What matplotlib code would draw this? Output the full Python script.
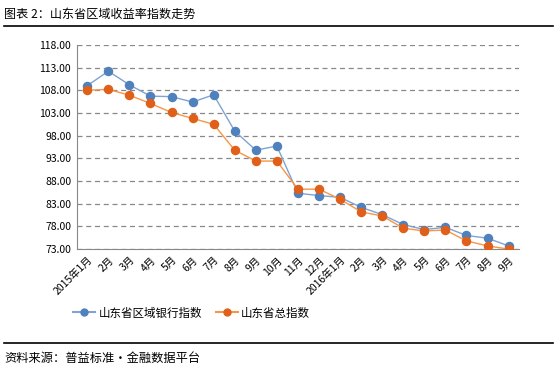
import matplotlib
matplotlib.use("Agg")
import matplotlib.pyplot as plt
from matplotlib.lines import Line2D

plt.rcParams['font.family'] = ['Noto Sans CJK SC', 'DejaVu Sans']

# =================
# DANE
# =================
months = ["2015年1月", "2月", "3月", "4月", "5月", "6月", "7月", "8月", "9月", "10月",
          "11月", "12月", "2016年1月", "2月", "3月", "4月", "5月", "6月", "7月", "8月", "9月"]
bank_index = [109.0, 112.2, 109.2, 106.7, 106.6, 105.4, 107.0, 99.0, 94.8, 95.7,
              85.3, 84.8, 84.4, 82.2, 80.6, 78.4, 77.3, 77.8, 76.0, 75.4, 73.7]
total_index = [108.0, 108.2, 106.9, 105.1, 103.1, 101.8, 100.5, 94.8, 92.4, 92.4,
               86.2, 86.2, 84.0, 81.2, 80.3, 77.6, 77.0, 77.2, 74.8, 73.7, 73.0]
yticks = [73, 78, 83, 88, 93, 98, 103, 108, 113, 118]

# =================
# WYKRES
# =================
fig = plt.figure(figsize=(5.6, 3.74), dpi=100)
ax = fig.add_axes([0.137, 0.334, 0.790, 0.546])

x = list(range(len(months)))
ax.plot(x, bank_index, color="#7FA3D3", lw=1.0, marker="o", ms=5.8,
        mfc="#4F81BD", mec="#4F81BD", zorder=3)
ax.plot(x, total_index, color="#F79646", lw=1.0, marker="o", ms=5.8,
        mfc="#E0601A", mec="#E0601A", zorder=3)

ax.set_xlim(-0.5, len(months) - 0.5)
ax.set_ylim(73, 118)
ax.set_yticks(yticks)
ax.set_yticklabels([f"{v:.2f}" for v in yticks], fontsize=7.5)
ax.set_xticks(x)
ax.set_xticklabels(months, rotation=45, ha="right", va="top",
                   rotation_mode="anchor", fontsize=7.5)
ax.tick_params(length=0, pad=4)
ax.grid(axis="y", ls=(0, (4, 3)), color="#888888", lw=0.9)
for s in ["top", "right"]:
    ax.spines[s].set_visible(False)
for s in ["left", "bottom"]:
    ax.spines[s].set_color("#888888")
ax.set_axisbelow(True)

handles = [
    Line2D([], [], color="#7FA3D3", marker="o", ms=5, mfc="#4F81BD", mec="#4F81BD"),
    Line2D([], [], color="#F79646", marker="o", ms=5, mfc="#E0601A", mec="#E0601A"),
]
fig.legend(handles, ["山东省区域银行指数", "山东省总指数"], loc="center left",
           bbox_to_anchor=(0.112, 1 - 313 / 374), ncol=2, frameon=False,
           fontsize=8.3, handlelength=1.9, columnspacing=1.2, handletextpad=0.3)

# =================
# TYTUL / ZRODLO
# =================
fig.text(4 / 560, 1 - 14 / 374, "图表 2：山东省区域收益率指数走势", fontsize=8.7,
         va="center", ha="left")
fig.add_artist(Line2D([4 / 560, 553 / 560], [1 - 25.5 / 374] * 2, color="black", lw=1.2))
fig.add_artist(Line2D([4 / 560, 553 / 560], [1 - 343 / 374] * 2, color="black", lw=1.2))
fig.text(4 / 560, 1 - 358 / 374, "资料来源：普益标准・金融数据平台", fontsize=8.8,
         va="center", ha="left")

fig.savefig("out.png", dpi=100)
